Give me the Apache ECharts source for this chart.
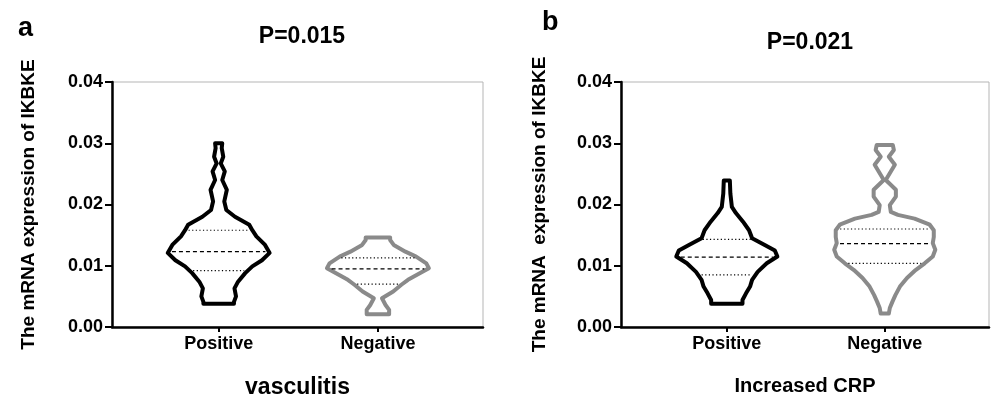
<!DOCTYPE html>
<html>
<head>
<meta charset="utf-8">
<script src="https://cdn.jsdelivr.net/npm/echarts@6/dist/echarts.min.js"></script>
<style>
  html, body { margin: 0; padding: 0; background: #fff; }
  #chart { width: 991px; height: 395px; }
</style>
</head>
<body>
<div id="chart"></div>
<script>
const categories = ['Positive', 'Negative'];
const panelLetters = ['a', 'b'];
const pValues = ['P=0.015', 'P=0.021'];
const xTitles = ['vasculitis', 'Increased CRP'];
const yTitles = ['The mRNA expression of IKBKE', 'The mRNA  expression of IKBKE'];

// violin outlines: expression value (top to bottom) and relative half-width (max = 1)
const vascPosY = [0.0300, 0.0292, 0.0278, 0.0267, 0.0254, 0.0240, 0.0224, 0.0205, 0.0191, 0.0180,
  0.0167, 0.0158, 0.0148, 0.0134, 0.0121, 0.0109, 0.0099, 0.0088, 0.0074, 0.0063, 0.0050, 0.0041, 0.0038];
const vascPosW = [0.07, 0.06, 0.09, 0.04, 0.12, 0.07, 0.16, 0.11, 0.15, 0.32,
  0.60, 0.66, 0.74, 0.91, 1.00, 0.85, 0.66, 0.52, 0.38, 0.31, 0.34, 0.30, 0.30];
const vascPosQ = [0.0092, 0.0123, 0.0158];

const vascNegY = [0.0146, 0.0142, 0.0134, 0.0123, 0.0115, 0.0104, 0.0096, 0.0088, 0.0077, 0.0069,
  0.0058, 0.0047, 0.0036, 0.0028, 0.0021];
const vascNegW = [0.24, 0.24, 0.31, 0.54, 0.75, 0.95, 1.00, 0.83, 0.59, 0.46,
  0.30, 0.08, 0.15, 0.22, 0.22];
const vascNegQ = [0.0070, 0.0095, 0.0113];

const crpPosY = [0.0239, 0.0218, 0.0196, 0.0186, 0.0172, 0.0158, 0.0145, 0.0134, 0.0125, 0.0115,
  0.0104, 0.0090, 0.0077, 0.0066, 0.0055, 0.0044, 0.0038];
const crpPosW = [0.06, 0.07, 0.10, 0.18, 0.32, 0.44, 0.50, 0.75, 0.95, 1.00,
  0.79, 0.61, 0.50, 0.46, 0.38, 0.31, 0.31];
const crpPosQ = [0.0085, 0.0114, 0.0143];

const crpNegY = [0.0297, 0.0289, 0.0278, 0.0265, 0.0254, 0.0240, 0.0224, 0.0213, 0.0199, 0.0188,
  0.0183, 0.0177, 0.0167, 0.0158, 0.0147, 0.0137, 0.0126, 0.0115, 0.0104, 0.0093,
  0.0080, 0.0066, 0.0052, 0.0041, 0.0031, 0.0022];
const crpNegW = [0.16, 0.18, 0.08, 0.20, 0.12, 0.02, 0.22, 0.22, 0.10, 0.12,
  0.26, 0.59, 0.89, 0.97, 0.97, 0.95, 1.00, 0.95, 0.79, 0.61,
  0.44, 0.30, 0.21, 0.15, 0.10, 0.08];
const crpNegQ = [0.0104, 0.0136, 0.0160];

const BLACK = '#000';
const GRAY = '#8a8a8a';
const HALF = 0.32; // max half-width in x-axis units
const FONT = '"Liberation Sans", Arial, sans-serif';

const panels = [
  [
    { x: 1, ys: vascPosY, ws: vascPosW, q: vascPosQ, color: BLACK },
    { x: 2, ys: vascNegY, ws: vascNegW, q: vascNegQ, color: GRAY },
  ],
  [
    { x: 1, ys: crpPosY, ws: crpPosW, q: crpPosQ, color: BLACK },
    { x: 2, ys: crpNegY, ws: crpNegW, q: crpNegQ, color: GRAY },
  ],
];

function widthAt(v, y) {
  for (let i = 0; i < v.ys.length - 1; i++) {
    const a = v.ys[i], b = v.ys[i + 1];
    if (y <= a && y >= b) {
      const t = (a - y) / (a - b);
      return v.ws[i] + t * (v.ws[i + 1] - v.ws[i]);
    }
  }
  return 0;
}

function renderViolin(group) {
  return (params, api) => {
    const v = group[params.dataIndex];
    const left = v.ys.map((y, i) => api.coord([v.x - v.ws[i] * HALF, y]));
    const right = v.ys.map((y, i) => api.coord([v.x + v.ws[i] * HALF, y])).reverse();
    const children = [{
      type: 'polygon',
      shape: { points: left.concat(right) },
      style: { fill: 'none', stroke: v.color, lineWidth: 4, lineJoin: 'round' },
    }];
    v.q.forEach((qy, k) => {
      const w = widthAt(v, qy) * HALF;
      const p1 = api.coord([v.x - w, qy]);
      const p2 = api.coord([v.x + w, qy]);
      children.push({
        type: 'line',
        shape: { x1: p1[0] + 3.5, y1: p1[1], x2: p2[0] - 3.5, y2: p2[1] },
        style: {
          stroke: '#000',
          lineWidth: k === 1 ? 1.3 : 1.2,
          lineDash: k === 1 ? [4, 3] : [1.2, 2.4],
        },
      });
    });
    return { type: 'group', children };
  };
}

const grids = [
  { left: 112, top: 82, width: 371, height: 245 },
  { left: 621, top: 82, width: 368, height: 245 },
];

const chart = echarts.init(document.getElementById('chart'), null, { renderer: 'canvas' });

const bold = (size) => ({ fontSize: size, fontWeight: 'bold', color: '#000', fontFamily: FONT });

chart.setOption({
  animation: false,
  backgroundColor: '#fff',
  textStyle: { fontFamily: FONT },
  title: [
    { text: panelLetters[0], left: 13, top: 10, textStyle: bold(27) },
    { text: pValues[0], left: 297, top: 20, textAlign: 'center', textStyle: bold(23) },
    { text: panelLetters[1], left: 537, top: 4, textStyle: bold(27) },
    { text: pValues[1], left: 805, top: 26, textAlign: 'center', textStyle: bold(23) },
  ],
  grid: grids.map((g) => ({
    ...g,
    show: true,
    borderColor: '#b5b5b5',
    borderWidth: 1,
    containLabel: false,
    outerBoundsMode: 'none',
  })),
  xAxis: [0, 1].map((i) => ({
    type: 'value',
    gridIndex: i,
    min: 0.33,
    max: 2.66,
    name: xTitles[i],
    nameLocation: 'middle',
    nameGap: i === 0 ? 49 : 49,
    nameTextStyle: bold(i === 0 ? 23 : 20),
    axisLine: { show: true, lineStyle: { color: '#000', width: 2.5 } },
    axisTick: { show: true, customValues: [1, 2], length: 5, lineStyle: { color: '#000', width: 2 } },
    axisLabel: {
      customValues: [1, 2],
      formatter: (v) => categories[Math.round(v) - 1],
      margin: 8,
      ...bold(18),
    },
    splitLine: { show: false },
  })),
  yAxis: [0, 1].map((i) => ({
    type: 'value',
    gridIndex: i,
    min: 0,
    max: 0.04,
    interval: 0.01,
    name: yTitles[i],
    nameLocation: 'middle',
    nameGap: i === 0 ? 74 : 72,
    nameTextStyle: bold(19),
    axisLine: { show: true, lineStyle: { color: '#000', width: 2.5 } },
    axisTick: { show: true, length: 7, lineStyle: { color: '#000', width: 2 } },
    axisLabel: {
      formatter: (v) => v.toFixed(2),
      margin: 9,
      ...bold(18),
    },
    splitLine: { show: false },
  })),
  series: panels.map((group, i) => ({
    type: 'custom',
    xAxisIndex: i,
    yAxisIndex: i,
    renderItem: renderViolin(group),
    data: group.map((v) => [v.x, v.q[1]]),
    silent: true,
  })),
});

window.addEventListener('resize', () => chart.resize());
</script>
</body>
</html>
